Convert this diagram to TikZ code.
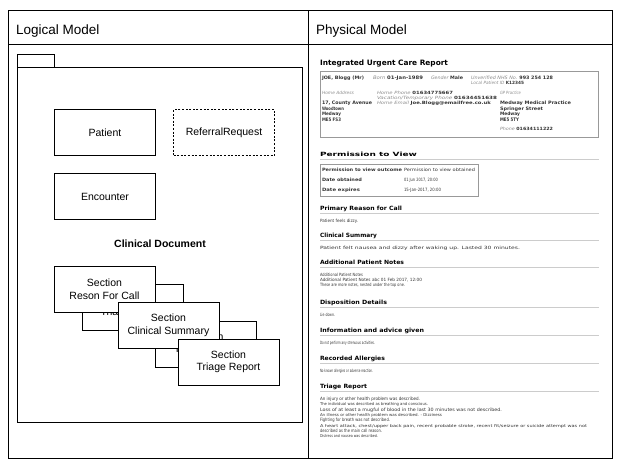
\documentclass[tikz,border=0pt]{standalone}
\usepackage{fontspec}
\usepackage{graphicx}
\setmainfont{Liberation Sans}
\newfontfamily\dvf{DejaVu Sans}
\definecolor{lbl}{HTML}{8A8A8A}
\definecolor{txt}{HTML}{333333}
\definecolor{rul}{HTML}{CCCCCC}
\definecolor{bxc}{HTML}{999999}
\newcommand{\fitw}[3]{\resizebox{#1pt}{#2pt}{#3}}
\newcommand{\lbx}[1]{\textcolor{lbl}{\itshape #1}}
\newcommand{\vbx}[1]{\textbf{#1}}
\begin{document}
\begin{tikzpicture}[x=1pt,y=-1pt,
  frame/.style={draw=black, line width=0.9pt},
  pkg/.style={draw=black, line width=0.8pt},
  cls/.style={draw=black, line width=0.7pt, fill=white, minimum width=101pt, minimum height=46pt, inner sep=0pt, align=center, font=\fontsize{10.5}{12.5}\selectfont},
  hdr/.style={anchor=base west, inner sep=0pt, font=\fontsize{13.5}{15}\selectfont},
  rp/.style={anchor=base west, inner sep=0pt, outer sep=0pt, font=\dvf, text=txt},
  hd/.style={anchor=base west, inner sep=0pt, outer sep=0pt, font=\dvf\bfseries, text=black},
  rule/.style={draw=rul, line width=0.6pt},
  gbox/.style={draw=bxc, line width=0.6pt}
]
\useasboundingbox (0,0) rectangle (619,467);
% table frame
\draw[frame] (8,10) rectangle (612,458);
\draw[frame] (8,44) -- (612,44);
\draw[frame] (308,10) -- (308,458);
\node[hdr] (lm) at (16,34.5) {Logical Model};
\node[hdr] (pm) at (316,34.5) {Physical Model};

% package
\draw[pkg] (17,67) rectangle (302,422);
\draw[pkg] (17,67) |- (54,54) -- (54,67);

\node[cls] (patient) at (105,132.5) {Patient};
\node[cls, dashed, dash pattern=on 2pt off 1.6pt] (referral) at (224,132.5) {ReferralRequest};
\node[cls] (encounter) at (105,196.5) {Encounter};
\node[font=\fontsize{10.5}{12.5}\selectfont\bfseries, inner sep=0pt] (cdoc) at (160,244) {Clinical Document};

\node[cls] (s1b) at (132.5,307) {Section\\Triage Report};
\node[cls] (s1) at (104.5,289) {Section\\Reson For Call};
\node[cls] (s2b) at (206,344) {Section\\Triage Report};
\node[cls] (s2) at (168.5,325.5) {Section\\Clinical Summary};
\node[cls] (s3) at (228.5,362) {Section\\Triage Report};

% ===== physical model =====
\node[hd] (t0) at (320,65.5) {\fitw{128}{5.6}{Integrated Urgent Care Report}};
\draw[gbox] (320,71) rectangle (598,137);
\node[rp] (p1) at (322,79.5) {\fitw{42}{3.5}{\vbx{JOE, Blogg (Mr)}}};
\node[rp] (p2) at (373,79.5) {\fitw{50}{3.5}{\lbx{Born} \vbx{01-Jan-1989}}};
\node[rp] (p3) at (431,79.5) {\fitw{32}{3.5}{\lbx{Gender} \vbx{Male}}};
\node[rp] (p4) at (471,79.5) {\fitw{82}{3.5}{\lbx{Unverified NHS No.} \vbx{993 254 128}}};
\node[rp] (p5) at (471,84.5) {\fitw{53}{3.3}{\lbx{Local Patient ID} \vbx{K12345}}};
\node[rp] (p6) at (322,94.5) {\fitw{32}{3.3}{\lbx{Home Address}}};
\node[rp] (p7) at (377,94.5) {\fitw{76}{3.3}{\lbx{Home Phone} \vbx{01634775667}}};
\node[rp] (p8) at (377,99.5) {\fitw{120}{3.3}{\lbx{Vacation/Temporary Phone} \vbx{01634451638}}};
\node[rp] (p9) at (377,104.5) {\fitw{114}{3.3}{\lbx{Home Email} \vbx{Joe.Blogg@emailfree.co.uk}}};
\node[rp] (p10) at (500,94.5) {\fitw{21}{3.3}{\lbx{GP Practice}}};
\node[rp] (p11) at (322,104.5) {\fitw{50}{3.5}{\vbx{17, County Avenue}}};
\node[rp] (p12) at (322,110) {\fitw{22}{3.5}{\vbx{Woodtown}}};
\node[rp] (p13) at (322,115.5) {\fitw{19}{3.5}{\vbx{Medway}}};
\node[rp] (p14) at (322,121) {\fitw{19}{3.5}{\vbx{ME5 FS3}}};
\node[rp] (p15) at (500,104.5) {\fitw{71}{3.5}{\vbx{Medway Medical Practice}}};
\node[rp] (p16) at (500,110) {\fitw{43}{3.5}{\vbx{Springer Street}}};
\node[rp] (p17) at (500,115.5) {\fitw{20}{3.5}{\vbx{Medway}}};
\node[rp] (p18) at (500,121) {\fitw{19}{3.5}{\vbx{ME5 5TY}}};
\node[rp] (p19) at (500,130.5) {\fitw{53}{3.3}{\lbx{Phone} \vbx{01634111222}}};

% Permission to view
\node[hd] (h1) at (320,156.5) {\fitw{97}{4.4}{Permission to View}};
\draw[rule] (320,159) -- (599,159);
\draw[gbox] (320,164) rectangle (478,196);
\node[rp] (q1) at (322,171.5) {\fitw{80}{3.4}{\vbx{Permission to view outcome}}};
\node[rp] (q2) at (404,171.5) {\fitw{71}{3.3}{Permission to view obtained}};
\node[rp] (q3) at (322,181.5) {\fitw{40}{3.4}{\vbx{Date obtained}}};
\node[rp] (q4) at (404,181.5) {\fitw{34}{3.3}{01 Jun 2017, 20:00}};
\node[rp] (q5) at (322,191.5) {\fitw{38}{3.4}{\vbx{Date expires}}};
\node[rp] (q6) at (404,191.5) {\fitw{37}{3.3}{15-Jan-2017, 20:00}};

% Primary reason
\node[hd] (h2) at (320,210.5) {\fitw{82}{4.4}{Primary Reason for Call}};
\draw[rule] (320,213) -- (599,213);
\node[rp] (b1) at (320,222.5) {\fitw{38}{3.3}{Patient feels dizzy.}};

% Clinical summary
\node[hd] (h3) at (320,237.5) {\fitw{57}{4.4}{Clinical Summary}};
\draw[rule] (320,240) -- (599,240);
\node[rp] (b2) at (320,249.5) {\fitw{200}{3.3}{Patient felt nausea and dizzy after waking up.  Lasted 30 minutes.}};

% Additional notes
\node[hd] (h4) at (320,264.5) {\fitw{84}{4.4}{Additional Patient Notes}};
\draw[rule] (320,267) -- (599,267);
\node[rp] (b3) at (320,276.5) {\fitw{43}{3.3}{Additional Patient Notes}};
\node[rp] (b4) at (320,281.5) {\fitw{102}{3.3}{Additional Patient Notes abc 01 Feb 2017, 12:00}};
\node[rp] (b5) at (320,286.5) {\fitw{85}{3.3}{These are more notes, nested under the top one.}};

% Disposition
\node[hd] (h5) at (320,304.5) {\fitw{67}{4.4}{Disposition Details}};
\draw[rule] (320,307.5) -- (599,307.5);
\node[rp] (b6) at (320,316.5) {\fitw{15}{3.3}{Lie down.}};

% Information and advice
\node[hd] (h6) at (320,332.5) {\fitw{104}{4.4}{Information and advice given}};
\draw[rule] (320,335.5) -- (599,335.5);
\node[rp] (b7) at (320,344.5) {\fitw{55}{3.3}{Do not perform any strenuous activities.}};

% Allergies
\node[hd] (h7) at (320,360.5) {\fitw{65}{4.4}{Recorded Allergies}};
\draw[rule] (320,363.5) -- (599,363.5);
\node[rp] (b8) at (320,372.5) {\fitw{53}{3.3}{No known allergies or adverse reaction.}};

% Triage report
\node[hd] (h8) at (320,388.5) {\fitw{47}{4.4}{Triage Report}};
\draw[rule] (320,391.5) -- (599,391.5);
\node[rp] (c1) at (320,400.5) {\fitw{100}{3.4}{An injury or other health problem was described.}};
\node[rp] (c2) at (320,405.5) {\fitw{108}{3.0}{The individual was described as breathing and conscious.}};
\node[rp] (c3) at (320,411) {\fitw{182}{3.4}{Loss of at least a mugful of blood in the last 30 minutes was not described.}};
\node[rp] (c4) at (320,416.5) {\fitw{122}{3.0}{An illness or other health problem was described. - Dizziness}};
\node[rp] (c5) at (320,421.5) {\fitw{70}{3.4}{Fighting for breath was not described.}};
\node[rp] (c6) at (320,427) {\fitw{267}{3.0}{A heart attack, chest/upper back pain, recent probable stroke, recent fit/seizure or suicide attempt was not}};
\node[rp] (c7) at (320,432.5) {\fitw{62}{3.4}{described as the main call reason.}};
\node[rp] (c8) at (320,437.5) {\fitw{58}{3.0}{Distress and nausea was described.}};
\end{tikzpicture}
\end{document}
